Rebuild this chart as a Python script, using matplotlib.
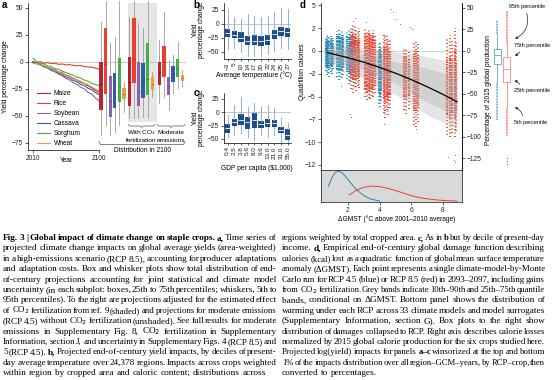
import matplotlib
matplotlib.use("Agg")
import matplotlib.pyplot as plt
from matplotlib.lines import Line2D
from matplotlib.patches import Rectangle, FancyArrowPatch

# ======================= DATA =======================
# ---- panel a: time series (area-weighted yield % change, RCP8.5) ----
years = [2010, 2015, 2020, 2025, 2030, 2035, 2040, 2045, 2050, 2055,
         2060, 2065, 2070, 2075, 2080, 2085, 2090, 2095, 2100]
crops = ["Maize", "Rice", "Soybean", "Cassava", "Sorghum", "Wheat"]
crop_colors = ["#b8232f", "#e8412f", "#8b62ae", "#2f5ea6", "#45ad4c", "#eba23a"]
ts_maize = [0.5, -1.2, -2.4, -3.9, -4.8, -6.3, -7.4, -9.2, -10.3, -12.1,
            -13.2, -15.3, -16.8, -18.7, -19.8, -22.1, -23.8, -26.2, -28.0]
ts_rice = [0.0, -0.8, 0.4, -1.2, -0.6, -1.6, -1.1, -2.2, -1.9, -2.7,
           -2.4, -3.2, -3.6, -3.3, -4.2, -4.6, -5.0, -5.6, -6.6]
ts_soybean = [-0.5, -1.8, -2.9, -4.4, -5.8, -7.9, -9.2, -11.3, -12.8, -15.2,
              -16.7, -19.3, -20.8, -23.4, -24.9, -28.1, -29.7, -33.2, -36.0]
ts_cassava = [0.0, -1.3, -2.4, -4.2, -5.3, -7.2, -8.3, -10.4, -11.7, -13.8,
              -14.9, -17.2, -18.3, -20.8, -21.8, -24.3, -25.7, -28.2, -30.0]
ts_sorghum = [3.5, 0.4, -1.2, -1.8, -3.7, -4.3, -6.2, -6.8, -8.7, -9.8,
              -11.2, -12.3, -14.2, -14.8, -16.7, -17.8, -19.7, -20.8, -22.0]
ts_wheat = [-1.5, -1.2, -2.8, -3.3, -5.2, -5.8, -8.2, -9.3, -11.2, -11.8,
            -13.7, -14.8, -16.7, -17.8, -19.7, -20.8, -23.2, -24.8, -27.0]

# 2100 distributions per crop: (p5, p25, median, p75, p95)
box_rcp85 = [(-67.6, -44.4, -20.0, 0.0, 36.7), (-58.3, -29.9, -2.0, 31.2, 56.0),
             (-67.6, -50.6, -36.5, -13.0, 17.3), (-64.5, -42.9, -26.7, -10.5, 22.9),
             (-58.3, -36.7, -22.0, 3.4, 56.0), (-45.9, -34.6, -29.5, -24.4, -18.2)]
box_co2 = [(-52.2, -40.7, -19.0, 4.4, 42.0), (-52.2, -19.7, 3.0, 40.4, 56.0),
           (-52.2, -40.7, -27.0, 0.3, 35.8), (-50.6, -33.6, -18.0, -0.6, 31.2),
           (-52.2, -30.5, -16.0, 17.3, 56.0), (-32.1, -25.9, -20.0, -14.2, -8.9)]
box_rcp45 = [(-38.3, -21.0, -10.0, 0.0, 20.0), (-32.1, -14.2, 0.0, 14.8, 46.6),
             (-44.4, -30.5, -22.0, -14.2, 1.9), (-29.0, -18.8, -11.0, -3.7, 6.5),
             (-24.4, -13.6, -6.0, 2.8, 18.8), (-21.9, -17.6, -14.5, -12.0, -7.4)]

# ---- panel b: by decile of present-day average temperature ----
temp_labels = ["\u22123", "5", "10", "14", "17", "20", "22", "24", "25", "27"]
b_p5 = [-44.6, -43.5, -50.6, -56.5, -57.0, -56.5, -53.6, -47.6, -43.5, -44.6]
b_p25 = [-23.8, -25.6, -32.7, -37.5, -37.0, -38.7, -37.5, -26.8, -20.8, -23.8]
b_p50 = [-16.7, -19.0, -25.6, -29.8, -30.0, -31.0, -28.0, -17.9, -11.9, -14.9]
b_p75 = [-8.9, -13.1, -14.9, -20.8, -20.0, -22.0, -19.6, -10.1, -6.0, -7.7]
b_p95 = [26.8, 11.9, 8.9, 17.9, 15.0, 12.0, 15.0, 20.8, 28.0, 27.0]

# ---- panel c: by decile of GDP per capita ----
gdp_labels = ["0.4", "2.5", "3.8", "5.6", "8.0", "9.6", "13.0", "21.0", "31.0", "55.0"]
c_p5 = [-45.8, -42.7, -39.6, -45.8, -52.0, -42.7, -45.8, -42.7, -58.4, -61.5]
c_p25 = [-38.3, -25.1, -23.9, -32.0, -30.2, -28.9, -28.3, -28.3, -38.3, -52.0]
c_p50 = [-30.0, -17.6, -14.5, -18.9, -14.5, -22.0, -20.8, -20.8, -33.3, -42.7]
c_p75 = [-22.0, -12.0, -3.2, -9.5, -0.7, -15.7, -13.2, -14.5, -28.3, -32.0]
c_p95 = [-5.0, 13.7, 29.4, 10.6, 18.0, 10.6, 13.7, 7.4, -11.4, -19.5]

# ---- panel d: damage function (quadrillion kcal) ----
production_2015 = 9.43  # quadrillion kcal -> 100 %
fit_x = [0.7, 2.0, 3.0, 4.0, 5.0, 6.0, 7.0, 8.0, 8.9]
fit_y = [-0.18, -0.74, -1.23, -1.80, -2.43, -3.14, -3.91, -4.75, -5.56]
band_p90 = [0.6, 0.5, 0.3, 0.1, -0.1, -0.3, -0.6, -1.0, -1.5]
band_p75 = [0.2, -0.1, -0.4, -0.8, -1.2, -1.5, -1.9, -2.4, -3.0]
band_p25 = [-0.6, -1.4, -2.1, -2.8, -3.6, -4.6, -5.6, -6.4, -7.2]
band_p10 = [-1.0, -2.1, -3.0, -3.9, -4.8, -5.8, -7.0, -7.8, -8.5]

# RCP4.5 model columns (blue): GMST, full range, dense core
d45_x = [0.58, 0.66, 0.74, 0.82, 0.90, 0.98, 1.05, 1.30, 1.40, 1.50, 1.60, 1.68,
         1.95, 2.05, 2.15, 2.25, 2.35, 3.95, 4.05, 4.12]
d45_lo = [-2.2, -2.6, -2.4, -2.8, -2.3, -2.5, -2.0, -2.9, -3.2, -2.8, -3.0, -2.6,
          -3.1, -3.6, -3.3, -3.0, -3.5, -5.8, -6.1, -5.5]
d45_hi = [1.5, 1.9, 1.7, 1.6, 1.8, 1.4, 1.2, 2.2, 2.5, 2.0, 2.3, 1.9,
          2.1, 2.3, 1.9, 2.2, 1.8, 0.8, 1.0, 0.6]
d45_clo = [-1.6, -1.8, -1.7, -1.9, -1.6, -1.7, -1.4, -2.0, -2.2, -2.0, -2.1, -1.8,
           -2.3, -2.5, -2.3, -2.1, -2.4, -4.6, -5.0, -4.4]
d45_chi = [1.1, 1.3, 1.2, 1.1, 1.3, 1.0, 0.8, 1.6, 1.8, 1.5, 1.7, 1.4,
           1.5, 1.6, 1.3, 1.5, 1.2, 0.0, 0.2, -0.2]
# RCP8.5 model columns (red)
d85_x = [2.20, 2.32, 2.42, 2.52, 2.62, 2.72, 3.10, 3.20, 3.30, 3.40, 3.50, 3.60, 3.70,
         4.25, 4.35, 4.45, 4.55, 4.65, 5.55, 5.70, 5.85, 6.15, 6.30, 6.42,
         8.30, 8.45, 8.60, 8.75, 8.85]
d85_lo = [-4.2, -4.6, -4.0, -4.4, -3.8, -4.1, -5.0, -5.4, -5.2, -5.3, -4.9, -5.1, -4.6,
          -6.8, -7.3, -6.5, -7.0, -6.2, -6.5, -6.9, -6.4, -8.1, -8.3, -7.8,
          -9.2, -9.4, -9.0, -9.4, -8.8]
d85_hi = [2.6, 3.0, 2.8, 2.4, 2.1, 2.5, 2.4, 2.2, 2.5, 1.9, 2.0, 2.3, 1.7,
          1.9, 1.6, 2.0, 1.4, 1.2, 0.3, 0.2, 0.0, 1.0, 1.2, 0.8,
          1.4, 1.8, 1.2, 2.5, 1.0]
d85_clo = [-3.0, -3.2, -2.9, -3.1, -2.7, -2.9, -4.2, -4.5, -4.4, -4.5, -4.1, -4.3, -3.8,
           -5.2, -5.6, -5.0, -5.4, -4.8, -5.0, -5.4, -4.9, -6.4, -6.6, -6.2,
           -7.0, -7.3, -6.8, -7.4, -6.6]
d85_chi = [1.6, 1.9, 1.7, 1.4, 1.2, 1.5, 1.9, 1.7, 2.0, 1.5, 1.5, 1.8, 1.2,
           0.6, 0.4, 0.8, 0.3, 0.1, -0.5, -0.6, -0.8, -0.2, 0.0, -0.4,
           -0.8, -0.5, -1.0, 0.2, -1.2]
d85_out_x = [2.30, 2.45, 3.15, 4.70, 4.85, 4.95, 5.30, 5.90, 6.05, 4.30, 6.30, 8.35, 8.70, 8.80, 8.75]
d85_out_y = [3.3, 3.6, 3.2, 4.6, 4.3, 3.5, 3.0, 2.6, 2.4, -8.0, -8.6, -11.6, -11.9, -12.2, -11.4]
d45_out_x = [2.10, 2.20, 1.55]
d45_out_y = [-6.9, -7.2, -3.8]

# warming distributions (bottom panel, relative density)
dens45_x = [0.75, 1.0, 1.2, 1.43, 1.7, 2.0, 2.5, 3.0, 3.4, 4.0]
dens45_y = [0.48, 0.78, 0.93, 0.97, 0.88, 0.70, 0.40, 0.20, 0.10, 0.03]
dens85_x = [2.08, 2.5, 3.0, 3.5, 4.0, 4.5, 5.0, 5.5, 6.0, 6.5, 7.0, 7.5, 8.0, 8.9]
dens85_y = [0.22, 0.36, 0.46, 0.50, 0.48, 0.43, 0.36, 0.28, 0.20, 0.14, 0.10, 0.07, 0.05, 0.03]

# damages collapsed to RCP (% of 2015 production): min, p5, p25, p50, p75, p95, max
rcp45_pct = (-80.0, -36.0, -14.7, -4.5, 2.8, 20.0, 36.5)
rcp85_pct = (-98.5, -65.0, -36.0, -21.3, -7.0, 10.0, 47.0)
rcp85_extreme = [-124.0, -127.5, -131.0]

# ======================= FIGURE =======================
W, H, DPI = 554, 380, 100
plt.rcParams['font.family'] = ['Liberation Sans', 'DejaVu Sans']
plt.rcParams['axes.linewidth'] = 0.5
plt.rcParams['xtick.major.width'] = 0.5
plt.rcParams['ytick.major.width'] = 0.5
plt.rcParams['xtick.major.size'] = 2
plt.rcParams['ytick.major.size'] = 2
plt.rcParams['xtick.major.pad'] = 1.5
plt.rcParams['ytick.major.pad'] = 1.5
TS = 4.8
fig = plt.figure(figsize=(W / DPI, H / DPI), dpi=DPI)
fig.patch.set_facecolor('white')


def add_ax(x0, y0, x1, y1):
    return fig.add_axes([x0 / W, 1 - y1 / H, (x1 - x0) / W, (y1 - y0) / H])


def ftext(px, py, s, **kw):
    return fig.text(px / W, 1 - py / H, s, **kw)


def fline(pts, **kw):
    fig.add_artist(Line2D([p[0] / W for p in pts], [1 - p[1] / H for p in pts],
                          transform=fig.transFigure, **kw))


def style_ax(ax):
    for s in ['top', 'right']:
        ax.spines[s].set_visible(False)
    ax.tick_params(labelsize=TS, colors='#222222')


# ---------------- panel a ----------------
axA = add_ax(28, 3, 186, 150)
px_per_year = 66 / 90.0


def yr(px):
    return 2010 + (px - 33) / px_per_year


style_ax(axA)
axA.add_patch(Rectangle((yr(127.7), -55.5), yr(156.7) - yr(127.7), 120,
                        facecolor='#e6e6e6', edgecolor='none', zorder=0))
axA.axhline(0, color='#cccccc', lw=0.8, zorder=0.5)
series = [ts_maize, ts_rice, ts_soybean, ts_cassava, ts_sorghum, ts_wheat]
handles = []
for name, col, ser in zip(crops, crop_colors, series):
    h, = axA.plot(years, ser, color=col, lw=0.8, label=name)
    handles.append(h)

group_start = [101.0, 129.3, 159.3]
spacing_px = 4.6
for g, stats in enumerate([box_rcp85, box_co2, box_rcp45]):
    for i, st in enumerate(stats):
        pos = yr(group_start[g] + i * spacing_px)
        col = crop_colors[i]
        bx = axA.bxp([{'whislo': st[0], 'q1': st[1], 'med': st[2], 'q3': st[3],
                       'whishi': st[4], 'fliers': []}], positions=[pos], widths=4.4,
                     showcaps=False, showfliers=False, patch_artist=True,
                     manage_ticks=False,
                     boxprops=dict(facecolor=col, edgecolor='none'),
                     whiskerprops=dict(color='#9a9a9a', lw=0.6),
                     medianprops=dict(color='#00000040', lw=0.6))
        for wl in bx['whiskers']:
            wl.set_clip_on(False)
            wl.set_zorder(1)
axA.set_xlim(yr(28), yr(186))
axA.set_ylim(-81.5, 54.6)
axA.spines['bottom'].set_bounds(yr(28), 2100)
axA.set_xticks([2010, 2100])
axA.set_xticklabels(['2010', '2100'])
axA.set_yticks([-75, -50, -25, 0, 25, 50])
axA.legend(handles=handles, loc='upper left', bbox_to_anchor=(0.035, 0.43),
           frameon=False, fontsize=TS, handlelength=2.0, handletextpad=0.5,
           labelspacing=0.45, borderpad=0)
ftext(66, 160.5, 'Year', fontsize=TS, ha='center', va='center')
ftext(6, 77, 'Yield percentage change', fontsize=TS, rotation=90, ha='center', va='center')


def brace(x0, x1, y):
    xm = (x0 + x1) / 2
    fline([(x0, y - 1.5), (x0 + 1.5, y), (xm - 1.5, y), (xm, y + 1.5), (xm + 1.5, y),
           (x1 - 1.5, y), (x1, y - 1.5)], color='#555555', lw=0.5)


brace(128.3, 155.0, 126.0)
brace(157.3, 185.0, 126.0)
fline([(99, 141.5), (100.5, 144.5), (183.5, 144.5), (185, 141.5)], color='#555555', lw=0.5)
ftext(141.7, 133.0, 'With CO$_2$', fontsize=4.6, ha='center', va='center')
ftext(141.7, 140.0, 'fertilization', fontsize=4.6, ha='center', va='center')
ftext(171.0, 133.0, 'Moderate', fontsize=4.6, ha='center', va='center')
ftext(171.0, 140.0, 'emissions', fontsize=4.6, ha='center', va='center')
ftext(142.0, 151.0, 'Distribution in 2100', fontsize=TS, ha='center', va='center')


# ---------------- panels b and c ----------------
def decile_panel(ax, p5, p25, p50, p75, p95, labels, ylim, lsize):
    style_ax(ax)
    ax.axhline(0, color='#bbbbbb', lw=0.6, zorder=0)
    stats = [{'whislo': a, 'q1': b, 'med': c, 'q3': d, 'whishi': e, 'fliers': []}
             for a, b, c, d, e in zip(p5, p25, p50, p75, p95)]
    ax.bxp(stats, positions=list(range(1, 11)), widths=0.78, showcaps=False,
           showfliers=False, patch_artist=True, manage_ticks=False,
           boxprops=dict(facecolor='#1f4e8c', edgecolor='none'),
           whiskerprops=dict(color='#8fb2dc', lw=0.7),
           medianprops=dict(color='white', lw=0.6))
    ax.set_xlim(0.45, 10.55)
    ax.set_ylim(*ylim)
    ax.set_xticks(list(range(1, 11)))
    ax.set_xticklabels(labels, rotation=90, fontsize=lsize)
    ax.set_yticks([-50, -25, 0, 25])
    ax.tick_params(axis='x', length=1.5, pad=1)


axB = add_ax(224, 3, 291.4, 59)
decile_panel(axB, b_p5, b_p25, b_p50, b_p75, b_p95, temp_labels, (-62.5, 37.5), 4.6)
axC = add_ax(224, 93, 291.4, 143)
decile_panel(axC, c_p5, c_p25, c_p50, c_p75, c_p95, gdp_labels, (-57.5, 36.1), 4.6)
for yc in (30, 118):
    ftext(195.5, yc, 'Yield', fontsize=TS, rotation=90, ha='center', va='center')
    ftext(201.8, yc, 'percentage change', fontsize=TS, rotation=90, ha='center', va='center')
ftext(254, 75, 'Average temperature (°C)', fontsize=TS, ha='center', va='center')
ftext(257, 168, 'GDP per capita (\\$1,000)', fontsize=TS, ha='center', va='center')

# ---------------- panel d ----------------
BLUE = '#2b88b3'
RED = '#ec4330'
axD = add_ax(320.7, 3, 462, 170)
for s in ['top', 'bottom']:
    axD.spines[s].set_visible(False)
axD.tick_params(labelsize=TS, colors='#222222')
axD.axhline(0, color='#cccccc', lw=0.6, zorder=0)

# model columns
axD.vlines(d45_x, d45_lo, d45_hi, colors=BLUE, lw=1.4, linestyles=(0, (0.5, 1.3)), zorder=2)
axD.vlines(d45_x, d45_clo, d45_chi, colors=BLUE, lw=1.7, linestyles=(0, (0.5, 0.4)), zorder=2)
axD.vlines(d85_x, d85_lo, d85_hi, colors=RED, lw=1.4, linestyles=(0, (0.5, 1.3)), zorder=2)
axD.vlines(d85_x, d85_clo, d85_chi, colors=RED, lw=1.7, linestyles=(0, (0.5, 0.5)), zorder=2)
axD.scatter(d85_out_x, d85_out_y, s=0.6, color=RED, lw=0, zorder=2)
axD.scatter(d45_out_x, d45_out_y, s=0.6, color=BLUE, lw=0, zorder=2)
# quantile bands and fit
axD.fill_between(fit_x, band_p10, band_p90, color='#a8a8a8', alpha=0.3, lw=0, zorder=3)
axD.fill_between(fit_x, band_p25, band_p75, color='#a8a8a8', alpha=0.3, lw=0, zorder=3)
axD.plot(fit_x, fit_y, color='black', lw=0.9, zorder=4)
axD.set_xlim(0.27, 9.22)
axD.set_ylim(-13.05, 5.26)
axD.set_xticks([])
axD.set_yticks([5, 2.5, 0, -2.5, -5, -7.5, -10, -12.5])
axD.set_yticklabels(['5', '2', '0', '\u22122', '\u22125', '\u22127', '\u221210', '\u221212'])

axD2 = axD.secondary_yaxis('right', functions=(lambda q: q * 100 / production_2015,
                                                lambda p: p * production_2015 / 100))
axD2.set_yticks([50, 25, 0, -25, -50, -75, -100, -125])
axD2.tick_params(labelsize=TS, colors='#222222')
axD2.spines['right'].set_linewidth(0.5)

ftext(303, 72, 'Quadrillion calories', fontsize=TS, rotation=90, ha='center', va='center')
ftext(488.5, 90, 'Percentage of 2015 global production', fontsize=TS, rotation=90,
      ha='center', va='center')

# bottom density panel
axDb = add_ax(320.7, 170, 462, 202)
axDb.set_facecolor('#d9d9d9')
axDb.plot(dens45_x, dens45_y, color=BLUE, lw=0.7)
axDb.plot(dens85_x, dens85_y, color=RED, lw=0.7)
axDb.set_xlim(0.27, 9.22)
axDb.set_ylim(0, 1)
axDb.set_yticks([])
axDb.set_xticks([2, 4, 6, 8])
axDb.tick_params(labelsize=TS, colors='#222222')
for s in axDb.spines.values():
    s.set_color('#333333')
    s.set_linewidth(0.6)
ftext(397, 219.5, '\u0394GMST (°C above 2001\u20132010 average)', fontsize=TS,
      ha='center', va='center')

# box plots collapsed to RCP
ylo, yhi = axD.get_ylim()
axE = add_ax(490, 3, 514, 170)
axE.axis('off')
for pos, st, col, light in [(1, rcp45_pct, BLUE, '#5aa6c8'), (2, rcp85_pct, RED, '#f28a88')]:
    mn, p5, p25, p50, p75, p95, mx = st
    axE.vlines([pos, pos], [p95, mn], [mx, p5], colors=col, lw=1.1,
               linestyles=(0, (0.5, 0.5)))
    axE.bxp([{'whislo': p5, 'q1': p25, 'med': p50, 'q3': p75, 'whishi': p95, 'fliers': []}],
            positions=[pos], widths=0.72, showcaps=False, showfliers=False,
            patch_artist=True, manage_ticks=False,
            boxprops=dict(facecolor='white', edgecolor=light, lw=0.6),
            whiskerprops=dict(color=light, lw=0.6),
            medianprops=dict(color=light, lw=0.6))
axE.scatter([2] * len(rcp85_extreme), rcp85_extreme, s=0.8, color=RED, lw=0)
axE.set_xlim(0.22, 2.78)
axE.set_ylim(ylo * 100 / production_2015, yhi * 100 / production_2015)

# percentile annotations
AS = 4.0
ftext(508.5, 6.5, '95th percentile', fontsize=AS, ha='left', va='center')
ftext(513.5, 46.0, '75th percentile', fontsize=AS, ha='left', va='center')
ftext(513.5, 90.7, '25th percentile', fontsize=AS, ha='left', va='center')
ftext(513.5, 122.7, '5th percentile', fontsize=AS, ha='left', va='center')
for (xa, ya), (xb, yb), rad in [((526, 10.5), (512.5, 40), -0.45),
                                ((521, 49.5), (512.0, 56), -0.3),
                                ((521, 87.0), (511.5, 81), 0.4),
                                ((523, 118.5), (512.0, 107), 0.4)]:
    fig.add_artist(FancyArrowPatch((xa / W, 1 - ya / H), (xb / W, 1 - yb / H),
                                   transform=fig.transFigure,
                                   connectionstyle='arc3,rad=%s' % rad,
                                   arrowstyle='-|>', mutation_scale=3.5, lw=0.5,
                                   color='#222222'))

# panel letters
for (px, py, s) in [(1.5, 0, 'a'), (193.5, 0, 'b'), (193.5, 88, 'c'), (300, 0, 'd')]:
    ftext(px, py, s, fontsize=7, fontweight='bold', ha='left', va='top')

# ======================= CAPTION =======================
cap_left = [
    "*Fig. *3 *| *Global *impact *of *climate *change *on *staple *crops. *a, Time series of",
    "projected climate change impacts on global average yields (area-weighted)",
    "in a high-emissions scenario (RCP 8.5), accounting for producer adaptations",
    "and adaptation costs. Box and whisker plots show total distribution of end-",
    "of-century projections accounting for joint statistical and climate model",
    "uncertainty (in each subplot: boxes, 25th to 75th percentiles; whiskers, 5th to",
    "95th percentiles). To the right are projections adjusted for the estimated effect",
    "of CO$_2$ fertilization from ref. 9 (shaded) and projections for moderate emissions",
    "(RCP 4.5) without CO$_2$ fertilization (unshaded). See full results for moderate",
    "emissions in Supplementary Fig. 8, CO$_2$ fertilization in Supplementary",
    "Information, section J, and uncertainty in Supplementary Figs. 4 (RCP 8.5) and",
    "5 (RCP 4.5). *b, Projected end-of-century yield impacts, by deciles of present-",
    "day average temperature over 24,378 regions. Impacts across crops weighted",
    "within region by cropped area and caloric content; distributions across",
]
cap_right = [
    "regions weighted by total cropped area. *c, As in *b but by decile of present-day",
    "income. *d, Empirical end-of-century global damage function describing",
    "calories (kcal) lost as a quadratic function of global mean surface temperature",
    "anomaly (\u0394GMST). Each point represents a single climate-model-by-Monte",
    "Carlo run for RCP 4.5 (blue) or RCP 8.5 (red) in 2093\u20132097, including gains",
    "from CO$_2$ fertilization. Grey bands indicate 10th\u201390th and 25th\u201375th quantile",
    "bands, conditional on \u0394GMST. Bottom panel shows the distribution of",
    "warming under each RCP across 33 climate models and model surrogates",
    "(Supplementary Information, section G). Box plots to the right show",
    "distribution of damages collapsed to RCP. Right axis describes calorie losses",
    "normalized by 2015 global calorie production for the six crops studied here.",
    "Projected log(yield) impacts for panels *a\u2013c winsorized at the top and bottom",
    "1% of the impacts distribution over all region\u2013GCM\u2013years, by RCP\u2013crop, then",
    "converted to percentages.",
]
CAP_FONT = ['Liberation Serif', 'DejaVu Serif']
renderer = fig.canvas.get_renderer()


def measure(s, bold, size):
    t = fig.text(0, 0, s, fontsize=size, family=CAP_FONT,
                 fontweight='bold' if bold else 'normal')
    w = t.get_window_extent(renderer=renderer).width
    t.remove()
    return w


def parse(line):
    out = []
    for w in line.split(' '):
        if w.startswith('*'):
            out.append((w[1:], True))
        else:
            out.append((w, False))
    return out


BASE = 6.7
columns = [(cap_left, 3.0, 276.7), (cap_right, 282.0, 545.0)]
space0 = measure('a a', False, BASE) - measure('aa', False, BASE)
for lines, x0, x1 in columns:
    colw = x1 - x0
    for k, ln in enumerate(lines):
        words = parse(ln)
        raw = [measure(w, b, BASE) for w, b in words]
        need = sum(raw) + 0.55 * space0 * (len(words) - 1)
        scale = min(1.0, colw / need)
        size = BASE * scale
        widths = [r * scale for r in raw]
        last = (k == len(lines) - 1)
        if last or len(words) < 2:
            gap = space0 * scale
        else:
            gap = (colw - sum(widths)) / (len(words) - 1)
        x = x0
        ybase = 240.0 + k * 10.4
        for (w, b), wd in zip(words, widths):
            ftext(x, ybase, w, fontsize=size, family=CAP_FONT,
                  fontweight='bold' if b else 'normal', ha='left', va='baseline')
            x += wd + gap

fig.savefig('out.png', dpi=DPI, facecolor='white')
